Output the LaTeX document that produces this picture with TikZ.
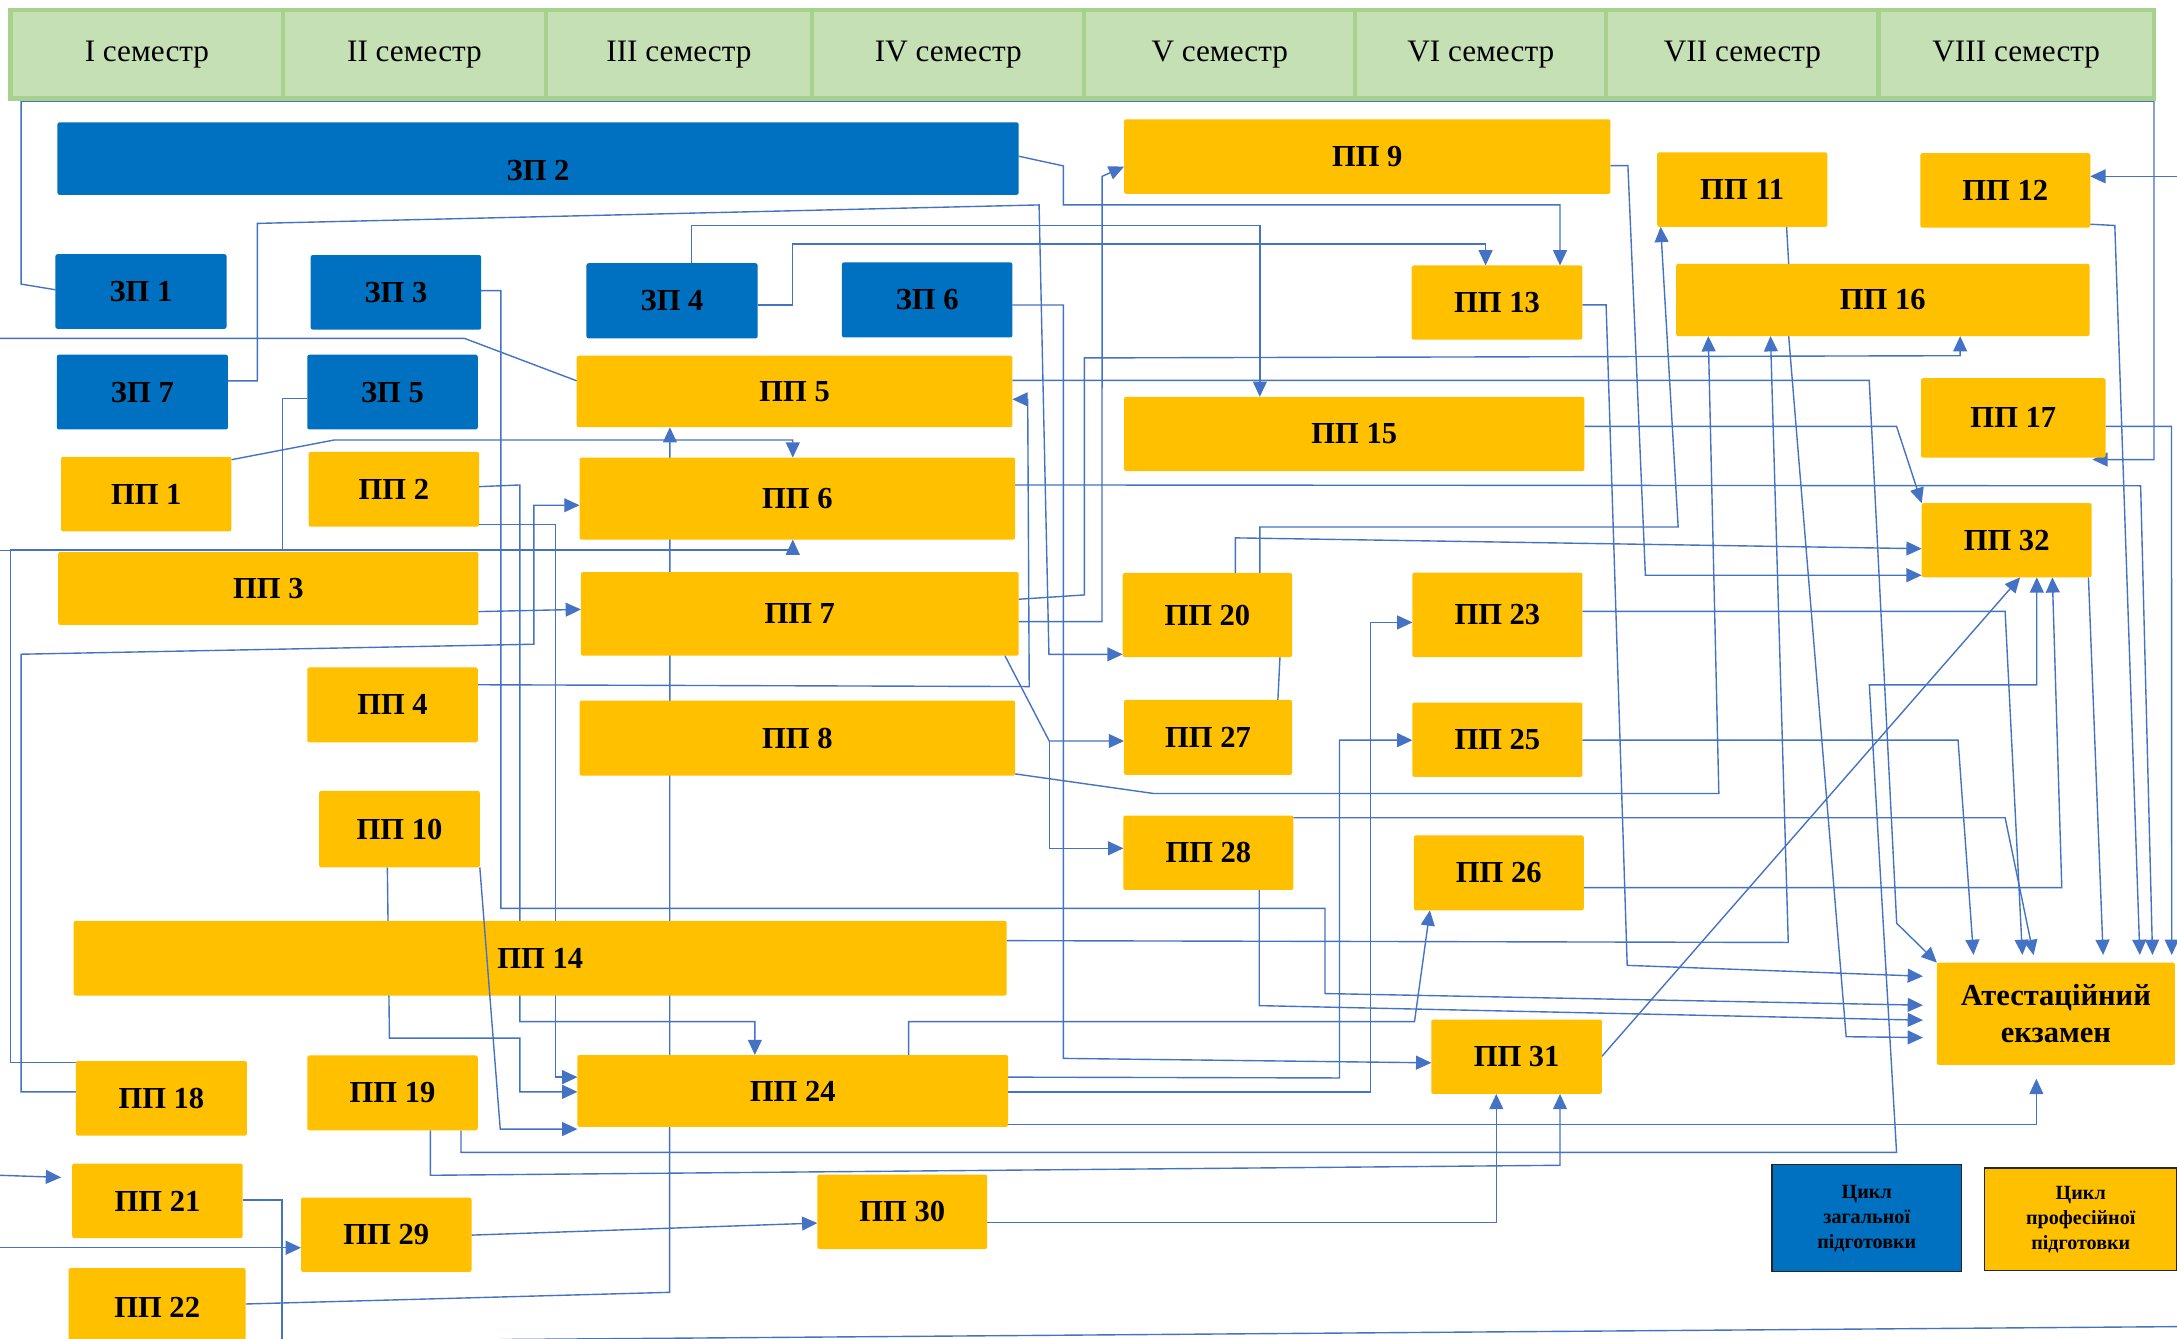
\documentclass[tikz,border=0pt]{standalone}
\usepackage{fontspec}
\setmainfont{Liberation Serif}
\usetikzlibrary{arrows.meta}
\pgfdeclarelayer{back}
\pgfdeclarelayer{bg}
\pgfsetlayers{back,bg,main}
\definecolor{zpblue}{HTML}{0070C0}
\definecolor{ppyel}{HTML}{FFC000}
\definecolor{lnblue}{HTML}{4472C4}
\definecolor{hdfill}{HTML}{C5E0B4}
\definecolor{hdline}{HTML}{A9D18E}
\newcommand\mybox[7]{%
  \pgfmathsetmacro\bxw{#5-#3}\pgfmathsetmacro\bxh{#6-#4}%
  \pgfmathsetmacro\bxcx{(#3+#5)/2}\pgfmathsetmacro\bxcy{(#4+#6)/2}%
  \node[#1, minimum width=\bxw pt, minimum height=\bxh pt] (#2) at (\bxcx,\bxcy) {#7};}
\begin{document}
\begin{tikzpicture}[x=1pt,y=-1pt,
  base/.style={inner sep=0pt, outer sep=0pt, rounded corners=1.5pt, text=black,
    font=\bfseries\fontsize{22}{26}\selectfont, align=center},
  zp/.style={base, fill=zpblue},
  pp/.style={base, fill=ppyel},
  hd/.style={inner sep=0pt, outer sep=0pt, fill=hdfill, draw=hdline, line width=3pt,
    font=\fontsize{22.5}{26}\selectfont},
  leg/.style={base, draw=black!85, line width=1pt, rounded corners=0pt,
    font=\bfseries\fontsize{14.5}{18}\selectfont},
  ln/.style={color=lnblue, line width=1pt},
  arr/.style={ln, -{Triangle[length=11pt,width=10pt]}},
  arrx/.style={arr, shorten >=10pt},
  arrt/.style={arr, shorten >=5.5pt}]
\useasboundingbox (0,0) rectangle (1568,964);
\begin{pgfonlayer}{back}
\fill[white] (0,0) rectangle (1568,964);
\end{pgfonlayer}
% header
\mybox{hd}{h1}{7.6}{7}{204}{71}{I семестр}
\mybox{hd}{h2}{204}{7}{393}{71}{II семестр}
\mybox{hd}{h3}{393}{7}{585}{71}{III семестр}
\mybox{hd}{h4}{585}{7}{781}{71}{IV семестр}
\mybox{hd}{h5}{781}{7}{976}{71}{V семестр}
\mybox{hd}{h6}{976}{7}{1157}{71}{VI семестр}
\mybox{hd}{h7}{1157}{7}{1353}{71}{VII семестр}
\mybox{hd}{h8}{1353}{7}{1551.4}{71}{VIII семестр}
% general cycle
\mybox{zp}{zp2}{41.4}{88.1}{733.7}{140.3}{\raisebox{-8pt}[15pt][0pt]{ЗП 2}}
\mybox{zp}{zp1}{39.9}{183.1}{163.2}{236.8}{ЗП 1}
\mybox{zp}{zp3}{223.8}{183.7}{346.6}{237.4}{ЗП 3}
\mybox{zp}{zp4}{422.4}{189.6}{545.7}{243.7}{ЗП 4}
\mybox{zp}{zp6}{606.4}{189}{729.2}{243}{ЗП 6}
\mybox{zp}{zp7}{40.9}{255.5}{164.2}{309.3}{ЗП 7}
\mybox{zp}{zp5}{221.3}{255.5}{344.1}{309.3}{ЗП 5}
% professional cycle
\mybox{pp}{pp5}{415.4}{256.2}{729.2}{307.7}{ПП 5}
\mybox{pp}{pp1}{44}{329}{166.7}{382.7}{ПП 1}
\mybox{pp}{pp2}{222.3}{325.5}{345.1}{379.3}{ПП 2}
\mybox{pp}{pp6}{417.4}{329.6}{731.2}{388.6}{ПП 6}
\mybox{pp}{pp3}{41.9}{397.5}{344.6}{450.1}{ПП 3}
\mybox{pp}{pp7}{418.4}{412}{733.7}{472.3}{ПП 7}
\mybox{pp}{pp4}{221.3}{480.7}{344.1}{534.7}{ПП 4}
\mybox{pp}{pp8}{417.4}{504.7}{731.2}{558.7}{ПП 8}
\mybox{pp}{pp10}{229.9}{569.6}{345.6}{624.8}{ПП 10}
\mybox{pp}{pp14}{53.1}{663.2}{725.1}{717.1}{ПП 14}
\mybox{pp}{pp18}{54.6}{764.2}{177.9}{817.9}{ПП 18}
\mybox{pp}{pp19}{221.3}{760.2}{344.1}{814.1}{ПП 19}
\mybox{pp}{pp24}{415.9}{759.9}{726.1}{811.6}{ПП 24}
\mybox{pp}{pp21}{52}{838.1}{174.8}{891.8}{ПП 21}
\mybox{pp}{pp29}{216.8}{862.5}{339.6}{916.1}{ПП 29}
\mybox{pp}{pp30}{588.7}{846}{711}{899.6}{ПП 30}
\mybox{pp}{pp22}{49.5}{913.3}{176.9}{970}{ПП 22}
\mybox{pp}{pp9}{809.6}{85.9}{1159.9}{139.6}{ПП 9}
\mybox{pp}{pp11}{1193.6}{109.7}{1316.1}{163.4}{ПП 11}
\mybox{pp}{pp12}{1383.1}{110.3}{1505.5}{164}{ПП 12}
\mybox{pp}{pp13}{1016.8}{191.2}{1139.7}{244.6}{ПП 13}
\mybox{pp}{pp16}{1207.2}{190}{1505}{242.1}{ПП 16}
\mybox{pp}{pp15}{809.6}{285.8}{1141.2}{339.3}{ПП 15}
\mybox{pp}{pp17}{1383.6}{272.4}{1516.6}{329.6}{ПП 17}
\mybox{pp}{pp32}{1384.1}{362.4}{1506.5}{415.8}{ПП 32}
\mybox{pp}{pp20}{808.6}{412.7}{930.6}{473.3}{ПП 20}
\mybox{pp}{pp23}{1017.3}{412.4}{1139.7}{473.3}{ПП 23}
\mybox{pp}{pp27}{809.6}{504.1}{930.6}{558.1}{ПП 27}
\mybox{pp}{pp25}{1017.3}{506}{1139.7}{559.6}{ПП 25}
\mybox{pp}{pp28}{809.1}{587.4}{931.6}{641}{ПП 28}
\mybox{pp}{pp26}{1018.3}{601.7}{1140.7}{655.7}{ПП 26}
\mybox{pp}{pp31}{1030.9}{734.3}{1153.8}{787.9}{ПП 31}
\mybox{pp}{exam}{1395}{693.3}{1566.5}{767}{Атестаційний\\[1pt]екзамен}
% legend
\mybox{leg, fill=zpblue}{leg1}{1276.3}{838.8}{1412.8}{916}{Цикл\\загальної\\підготовки}
\mybox{leg, fill=ppyel}{leg2}{1429.4}{841.3}{1568}{915.2}{Цикл\\професійної\\підготовки}
% connectors (behind boxes)
\begin{pgfonlayer}{bg}
\draw[arr] (zp1.west |- 0,208.7) -- (15.2,204.6) -- (15.2,72.8) -- (1551.4,72.8) -- (1551.4,331) -- (1507,331);
\draw[arr] (1568,127) -- (pp12.east |- 0,127);
\draw[arr] (zp2.east |- 0,112.5) -- (765.9,119.5) -- (765.9,147.6) -- (1123.6,147.6) -- (pp13.north -| 1123.6,0);
\draw[arr] (zp7.east |- 0,274.3) -- (185.4,274.3) -- (185.4,160.9) -- (748.4,147.6) -- (755.5,471.3) -- (pp20.west |- 0,471.3);
\draw[arr] (zp4.north -| 498,0) -- (498,162.4) -- (907.4,162.4) -- (pp15.north -| 907.4,0);
\draw[arr] (zp4.east |- 0,219.6) -- (571,219.6) -- (571,175.6) -- (1070,175.6) -- (pp13.north -| 1070,0);
\draw[arrx] (zp3.east |- 0,209.3) -- (360.8,209.3) -- (360.8,654.3) -- (954.3,654.3) -- (954.3,715.6) -- (exam.west |- 0,724.2);
\draw[arr] (zp6.east |- 0,219.7) -- (765.9,219.7) -- (765.9,762.3) -- (pp31.west |- 0,765.5);
\draw[ln] (0,243.7) -- (334.5,243.7) -- (pp5.west |- 0,274.3);
\draw[arr] (pp5.east |- 0,274) -- (1346.3,274) -- (1366.1,665) -- (exam.north west);
\draw[arr] (pp4.east |- 0,493.2) -- (741.3,494.5) -- (740.2,287.6) -- (pp5.east |- 0,287.6);
\draw[arr] (pp22.east |- 0,939.2) -- (482.3,930.8) -- (pp5.south -| 482.5,0);
\draw[arr] (pp1.east |- 0,331.1) -- (240.7,316.9) -- (571,316.9) -- (pp6.north -| 571,0);
\draw[arr] (zp5.west |- 0,286.8) -- (203.6,286.8) -- (203.6,396) -- (571,396) -- (pp6.south -| 571,0);
\draw[ln] (pp18.west |- 0,765.4) -- (7.6,765.4) -- (7.6,396) -- (203.6,396);
\draw[ln] (0,396.5) -- (7.6,396.5);
\draw[arr] (pp18.west |- 0,786.4) -- (15.2,786.4) -- (15.2,471.2) -- (384.5,464) -- (384.5,363.9) -- (pp6.west |- 0,363.9);
\draw[arr] (pp2.east |- 0,350.5) -- (374.4,349.3) -- (374.4,735.8) -- (543.7,735.8) -- (pp24.north -| 543.7,0);
\draw[arr] (pp2.east |- 0,377.6) -- (399.9,377.6) -- (399.9,775.8) -- (pp24.west |- 0,775.8);
\draw[arr] (pp10.south -| 279,0) -- (280.5,747.7) -- (374.4,747.7) -- (374.4,786.4) -- (pp24.west |- 0,786.4);
\draw[arr] (pp3.east |- 0,440.5) -- (pp7.west |- 0,438.9);
\draw[arrt] (pp6.east |- 0,349.3) -- (1541.8,349.9) -- (exam.north -| 1550.5,0);
\draw[arr] (pp7.east |- 0,431.6) -- (781,428.5) -- (781,257.8) -- (1411.8,256.2) -- (pp16.south -| 1411.8,0);
\draw[arr] (pp7.east |- 0,447.7) -- (793.7,447.7) -- (793.8,127) -- (pp9.west |- 0,120);
\draw[arr] (pp7.south -| 723.8,0) -- (755.7,533.7) -- (pp27.west |- 0,533.7);
\draw[arr] (755.7,533.7) -- (755.7,611) -- (pp28.west |- 0,611);
\draw[arr] (pp8.east |- 0,557.4) -- (830.8,571.5) -- (1238,571.5) -- (pp16.south -| 1230.4,0);
\draw[arr] (pp9.east |- 0,119.3) -- (1172.5,119.3) -- (1185.1,414.3) -- (pp32.west |- 0,414.3);
\draw[ln] (pp11.south -| 1286.8,0) -- (pp16.north -| 1288.3,0);
\draw[arr] (pp20.north -| 907.4,0) -- (907.4,379.6) -- (1208.7,379.6) -- (pp11.south -| 1196.1,0);
\draw[arr] (pp20.north -| 889.8,0) -- (889.8,387.4) -- (pp32.west |- 0,395.2);
\draw[arr] (pp15.east |- 0,307.1) -- (1366,307.1) -- (pp32.north west);
\draw[arrx] (pp13.east |- 0,219.6) -- (1156.8,219.6) -- (1172,695.3) -- (exam.west |- 0,703.5);
\draw[arrx] (pp16.south -| 1288.3,0) -- (1329.7,746.7) -- (exam.west |- 0,747.4);
\draw[arr] (pp14.east |- 0,677.5) -- (1288,678.8) -- (pp16.south -| 1275.2,0);
\draw[arrt] (pp12.east |- 0,161.5) -- (1523.2,162.4) -- (exam.north -| 1541.4,0);
\draw[arrt] (pp17.east |- 0,307.1) -- (1564,307.1) -- (exam.north -| 1564.2,0);
\draw[arrt] (pp32.south -| 1504.2,0) -- (exam.north -| 1515,0);
\draw[arrt] (pp23.east |- 0,440.3) -- (1444.2,440.3) -- (exam.north -| 1456.9,0);
\draw[arrt] (pp25.east |- 0,533.1) -- (1410.3,533.1) -- (exam.north -| 1421.8,0);
\draw[arrt] (pp28.east |- 0,589) -- (1444.2,589) -- (exam.north -| 1465.8,0);
\draw[arrx] (pp28.south -| 907,0) -- (907,724.3) -- (exam.west |- 0,735);
\draw[arr] (pp26.east |- 0,639.3) -- (1485,639.3) -- (pp32.south -| 1478.2,0);
\draw[arr] (pp31.east |- 0,760.8) -- (pp32.south -| 1455,0);
\draw[ln] (pp20.south -| 921.9,0) -- (pp27.north -| 920.4,0);
\draw[arr] (pp24.north -| 654.4,0) -- (654.4,735.8) -- (1018.8,735.8) -- (pp26.south -| 1029.9,0);
\draw[arr] (pp24.east |- 0,775.8) -- (964.8,776.4) -- (964.8,533.1) -- (pp25.west |- 0,533.1);
\draw[arr] (pp24.east |- 0,786.4) -- (987,786.4) -- (987,448.3) -- (pp23.west |- 0,448.3);
\draw[arrx] (pp24.east |- 0,810) -- (1466.7,810) -- (exam.south -| 1466.7,0);
\draw[arr] (pp19.south -| 332,0) -- (332,830) -- (1366,830) -- (1346.4,493.3) -- (1467,493.3) -- (pp32.south -| 1467,0);
\draw[arr] (pp19.south -| 310,0) -- (310,846.5) -- (1123.6,839.3) -- (pp31.south -| 1123.6,0);
\draw[arr] (pp30.east |- 0,880.6) -- (1077.7,880.6) -- (pp31.south -| 1077.7,0);
\draw[arr] (pp29.east |- 0,889.6) -- (pp30.west |- 0,880.9);
\draw[ln] (pp21.east |- 0,864.3) -- (203.1,864.3) -- (203.1,966);
\draw[arr, shorten >=8pt] (0,846.5) -- (pp21.west |- 0,848.3);
\draw[arr] (0,898.7) -- (pp29.west |- 0,898.7);
\draw[ln] (360,964.8) -- (1568,955.5);
\end{pgfonlayer}
% connector drawn over ПП 14
\draw[arr] (pp10.east |- 0,624.8) -- (360.3,813.2) -- (pp24.west |- 0,813.2);
\end{tikzpicture}
\end{document}
